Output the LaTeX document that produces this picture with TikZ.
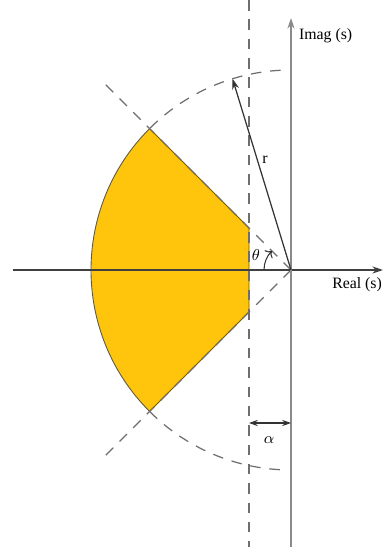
\documentclass[tikz,border=0pt]{standalone}
\usepackage{fontspec}
\setmainfont{Liberation Serif}
\usetikzlibrary{arrows.meta,positioning,calc}
\definecolor{axisgray}{HTML}{8A8A8A}
\definecolor{dashgray}{HTML}{6E6E6E}
\definecolor{regionfill}{HTML}{FFC40C}
\definecolor{regionedge}{HTML}{6B5A1E}

\begin{document}
\begin{tikzpicture}[
    axis/.style={draw=axisgray, line width=0.9pt, -{Stealth[length=6pt,width=4pt]}},
    guide/.style={draw=dashgray, line width=0.7pt, dash pattern=on 6pt off 5pt},
    region/.style={fill=regionfill, draw=regionedge, line width=0.5pt},
    lbl/.style={font=\small, inner sep=1pt},
]
\useasboundingbox (-5.82,-5.54) rectangle (1.86,5.4);
\def\R{4}
\def\a{0.84}

% key points
\coordinate (O) at (0,0);
\coordinate (Ltop) at (-\a,\a);
\coordinate (Lbot) at (-\a,-\a);
\coordinate (Ctop) at (135:\R);
\coordinate (Cbot) at (225:\R);
\coordinate (Rtip) at (107:\R);

% shaded region
\path[region] (Ltop) -- (Ctop) arc[start angle=135, end angle=225, radius=\R] -- (Lbot) -- cycle;

% dashed guides
\draw[guide] (O) -- (135:5.25);
\draw[guide] (O) -- (225:5.25);
\draw[guide] (93:\R) arc[start angle=93, end angle=135, radius=\R];
\draw[guide] (225:\R) arc[start angle=225, end angle=267, radius=\R];
\draw[guide] (-\a,5.4) -- (-\a,-5.54);

% axes
\coordinate (Xl) at (-5.56,0);
\coordinate (Xr) at (1.84,0);
\coordinate (Yb) at (0,-5.54);
\coordinate (Yt) at (0,5.04);
\draw[axis, draw=black!75] (Xl) -- (Xr);
\draw[axis] (Yb) -- (Yt);
\node[lbl, anchor=west] (imag) at (0.12,4.68) {Imag (s)};
\node[lbl, anchor=east] (real) at (1.86,-0.3) {Real (s)};

% radius
\draw[black!80, line width=0.7pt, -{Stealth[length=6pt,width=4pt]}] (O) -- (Rtip);
\node[lbl] (r) at (-0.52,2.2) {r};

% angle
\draw[black!80, line width=0.6pt, -{To[length=3pt]}] (180:0.54) arc[start angle=180, end angle=135, radius=0.54];
\node[lbl] (theta) at (-0.7,0.3) {$\theta$};

% offset
\coordinate (Aa) at (-\a,-3.06);
\coordinate (Ab) at (0,-3.06);
\draw[black!80, line width=0.7pt, {Stealth[length=5pt,width=3.5pt]}-{Stealth[length=5pt,width=3.5pt]}] (Aa) -- (Ab);
\node[lbl] (alpha) at (-0.44,-3.4) {$\alpha$};
\end{tikzpicture}
\end{document}
